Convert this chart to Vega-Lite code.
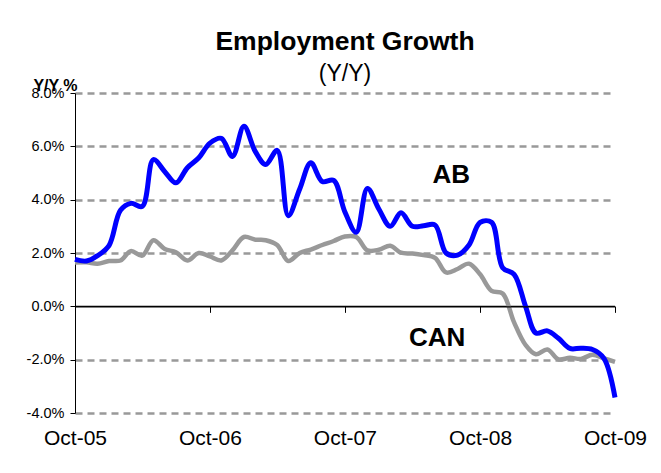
{
  "$schema": "https://vega.github.io/schema/vega-lite/v6.json",
  "autosize": {"type": "none"},
  "width": 540,
  "height": 320,
  "padding": {"left": 75, "top": 93, "right": 46, "bottom": 60},
  "background": "white",
  "title": {
    "text": "Employment Growth",
    "subtitle": "(Y/Y)",
    "anchor": "middle",
    "font": "Liberation Sans",
    "fontSize": 26.5,
    "fontWeight": "bold",
    "color": "black",
    "subtitleFont": "Liberation Sans",
    "subtitleFontSize": 23,
    "subtitleColor": "black",
    "subtitlePadding": 8,
    "offset": -9
  },
  "config": {
    "view": {"stroke": null},
    "font": "Liberation Sans",
    "axis": {"labelFont": "Liberation Sans", "labelColor": "black", "titleColor": "black"}
  },
  "datasets": {
    "emp": [
      {"date": "2005/10/01", "AB": 1.76, "CAN": 1.64},
      {"date": "2005/11/01", "AB": 1.70, "CAN": 1.65},
      {"date": "2005/12/01", "AB": 1.90, "CAN": 1.60},
      {"date": "2006/01/01", "AB": 2.28, "CAN": 1.70},
      {"date": "2006/02/01", "AB": 3.60, "CAN": 1.72},
      {"date": "2006/03/01", "AB": 3.86, "CAN": 2.07},
      {"date": "2006/04/01", "AB": 3.75, "CAN": 1.90},
      {"date": "2006/05/01", "AB": 5.50, "CAN": 2.48},
      {"date": "2006/06/01", "AB": 5.05, "CAN": 2.15},
      {"date": "2006/07/01", "AB": 4.63, "CAN": 2.03},
      {"date": "2006/08/01", "AB": 5.20, "CAN": 1.72},
      {"date": "2006/09/01", "AB": 5.57, "CAN": 2.00},
      {"date": "2006/10/01", "AB": 6.12, "CAN": 1.87},
      {"date": "2006/11/01", "AB": 6.30, "CAN": 1.72},
      {"date": "2006/12/01", "AB": 5.62, "CAN": 2.10},
      {"date": "2007/01/01", "AB": 6.75, "CAN": 2.60},
      {"date": "2007/02/01", "AB": 5.80, "CAN": 2.50},
      {"date": "2007/03/01", "AB": 5.32, "CAN": 2.48},
      {"date": "2007/04/01", "AB": 5.85, "CAN": 2.30},
      {"date": "2007/05/01", "AB": 3.40, "CAN": 1.70},
      {"date": "2007/06/01", "AB": 4.40, "CAN": 2.00},
      {"date": "2007/07/01", "AB": 5.38, "CAN": 2.13},
      {"date": "2007/08/01", "AB": 4.68, "CAN": 2.30},
      {"date": "2007/09/01", "AB": 4.72, "CAN": 2.45},
      {"date": "2007/10/01", "AB": 3.55, "CAN": 2.62},
      {"date": "2007/11/01", "AB": 2.78, "CAN": 2.60},
      {"date": "2007/12/01", "AB": 4.42, "CAN": 2.10},
      {"date": "2008/01/01", "AB": 3.65, "CAN": 2.12},
      {"date": "2008/02/01", "AB": 3.00, "CAN": 2.27},
      {"date": "2008/03/01", "AB": 3.51, "CAN": 2.01},
      {"date": "2008/04/01", "AB": 3.00, "CAN": 1.98},
      {"date": "2008/05/01", "AB": 3.02, "CAN": 1.92},
      {"date": "2008/06/01", "AB": 3.05, "CAN": 1.82},
      {"date": "2008/07/01", "AB": 2.00, "CAN": 1.27},
      {"date": "2008/08/01", "AB": 1.92, "CAN": 1.40},
      {"date": "2008/09/01", "AB": 2.30, "CAN": 1.60},
      {"date": "2008/10/01", "AB": 3.15, "CAN": 1.20},
      {"date": "2008/11/01", "AB": 3.15, "CAN": 0.58},
      {"date": "2008/12/01", "AB": 1.45, "CAN": 0.48},
      {"date": "2009/01/01", "AB": 1.20, "CAN": -0.60},
      {"date": "2009/02/01", "AB": 0.00, "CAN": -1.45},
      {"date": "2009/03/01", "AB": -1.00, "CAN": -1.80},
      {"date": "2009/04/01", "AB": -0.92, "CAN": -1.62},
      {"date": "2009/05/01", "AB": -1.20, "CAN": -1.99},
      {"date": "2009/06/01", "AB": -1.58, "CAN": -1.93},
      {"date": "2009/07/01", "AB": -1.57, "CAN": -1.97},
      {"date": "2009/08/01", "AB": -1.62, "CAN": -1.82},
      {"date": "2009/09/01", "AB": -1.95, "CAN": -1.95},
      {"date": "2009/10/01", "AB": -3.42, "CAN": -2.08}
    ]
  },
  "resolve": {"axis": {"x": "independent"}},
  "layer": [
    {
      "data": {"values": [{}]},
      "mark": {"type": "rule", "color": "black", "strokeWidth": 1.3},
      "encoding": {
        "y": {"datum": 0, "type": "quantitative"}
      }
    },
    {
      "data": {"name": "emp"},
      "mark": {"type": "line", "color": "#999999", "strokeWidth": 4.5, "interpolate": "catmull-rom"},
      "encoding": {
        "x": {
          "field": "date", "type": "temporal",
          "scale": {"domain": [{"year": 2005, "month": 10, "date": 1}, {"year": 2009, "month": 10, "date": 1}], "nice": false},
          "axis": {
            "orient": "bottom", "title": null, "domain": false, "ticks": false, "grid": false,
            "values": [{"year": 2005, "month": 10, "date": 1}, {"year": 2006, "month": 10, "date": 1}, {"year": 2007, "month": 10, "date": 1}, {"year": 2008, "month": 10, "date": 1}, {"year": 2009, "month": 10, "date": 1}],
            "format": "%b-%y", "labelFontSize": 21, "labelPadding": 14, "labelFlush": false, "labelOverlap": false
          }
        },
        "y": {
          "field": "CAN", "type": "quantitative",
          "scale": {"domain": [-4, 8], "nice": false, "zero": false},
          "axis": {
            "values": [-4, -2, 0, 2, 4, 6, 8],
            "labelExpr": "(datum.value < 0 ? '-' : '') + format(abs(datum.value), '.1f') + '%'",
            "labelFontSize": 14.5, "labelPadding": 6,
            "domain": true, "domainColor": "black", "domainWidth": 1,
            "ticks": true, "tickColor": "black", "tickSize": 5, "tickWidth": 1,
            "grid": true,
            "gridOpacity": {"condition": {"test": "datum.value === 0", "value": 0}, "value": 1},
            "gridColor": "#999999",
            "gridDash": [7, 5], "gridWidth": 2.5,
            "title": "Y/Y %", "titleAngle": 0, "titleFont": "Liberation Sans", "titleFontSize": 16, "titleFontWeight": "bold",
            "titleAlign": "center", "titleBaseline": "alphabetic", "titleX": -20, "titleY": -3
          }
        }
      }
    },
    {
      "data": {"name": "emp"},
      "mark": {"type": "line", "color": "#0000FF", "strokeWidth": 5, "interpolate": "catmull-rom"},
      "encoding": {
        "x": {
          "field": "date", "type": "temporal",
          "axis": {
            "orient": "bottom", "offset": -106.67, "title": null, "labels": false, "grid": false, "zindex": 2,
            "domain": true, "domainColor": "black", "domainWidth": 1.3,
            "ticks": true, "tickColor": "black", "tickSize": 6, "tickWidth": 1,
            "values": [{"year": 2005, "month": 10, "date": 1}, {"year": 2006, "month": 10, "date": 1}, {"year": 2007, "month": 10, "date": 1}, {"year": 2008, "month": 10, "date": 1}, {"year": 2009, "month": 10, "date": 1}]
          }
        },
        "y": {"field": "AB", "type": "quantitative"}
      }
    },
    {
      "data": {"values": [{}]},
      "mark": {"type": "text", "text": "AB", "font": "Liberation Sans", "fontSize": 26, "fontWeight": "bold", "color": "black", "align": "center", "baseline": "middle"},
      "encoding": {
        "x": {"datum": {"year": 2008, "month": 7, "date": 15}, "type": "temporal", "axis": null},
        "y": {"datum": 4.91, "type": "quantitative"}
      }
    },
    {
      "data": {"values": [{}]},
      "mark": {"type": "text", "text": "CAN", "font": "Liberation Sans", "fontSize": 26, "fontWeight": "bold", "color": "black", "align": "center", "baseline": "middle"},
      "encoding": {
        "x": {"datum": {"year": 2008, "month": 6, "date": 7}, "type": "temporal", "axis": null},
        "y": {"datum": -1.2, "type": "quantitative"}
      }
    }
  ]
}
